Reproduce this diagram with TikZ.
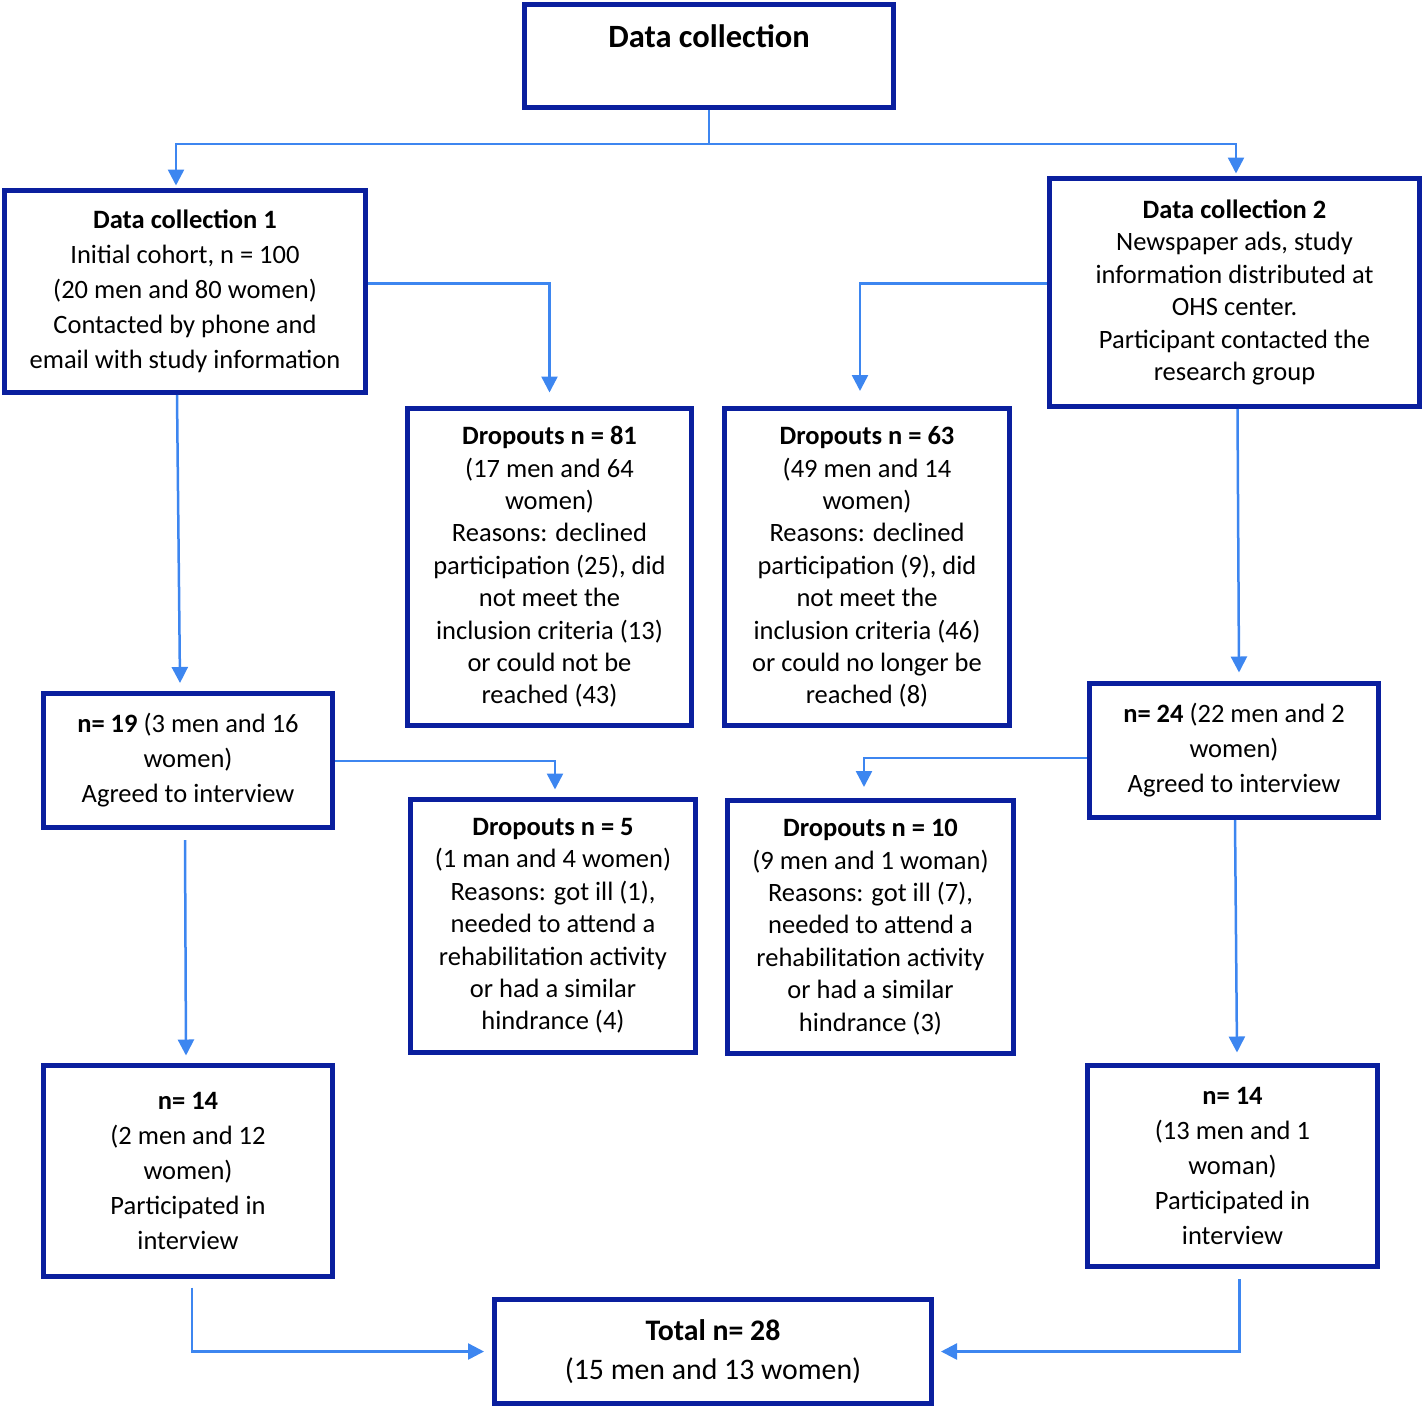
\documentclass[tikz,border=0pt]{standalone}
\usepackage{fontspec}
\setmainfont{Carlito}
\usetikzlibrary{arrows.meta}
\definecolor{boxblue}{HTML}{0A1F9E}
\definecolor{linkblue}{HTML}{3D86F0}
\tikzset{
  box/.style={draw=boxblue, line width=5pt, fill=white, align=center, inner sep=2pt,
    font=\fontsize{26.5}{35}\selectfont},
  dbox/.style={box, font=\fontsize{26.5}{32.4}\selectfont},
  conn/.style={draw=linkblue, line width=2.5pt, -{Triangle[length=16pt,width=16pt]}},
  plain/.style={draw=linkblue, line width=2.5pt}
}
\begin{document}
\begin{tikzpicture}[x=1pt,y=-1pt]
\useasboundingbox (0,0) rectangle (1424,1408);

\node[box, minimum width=369pt, minimum height=103pt, font=\fontsize{32.5}{30}\selectfont] (top) at (709,56)
  {\textbf{Data collection}\\ \strut};

\node[box, minimum width=361pt, minimum height=202pt] (dc1) at (185,291.5)
  {\textbf{Data collection 1}\\Initial cohort, n = 100\\(20 men and 80 women)\\Contacted by phone and\\email with study information};

\node[dbox, minimum width=370pt, minimum height=228pt] (dc2) at (1234.5,292.5)
  {\textbf{Data collection 2}\\Newspaper ads, study\\information distributed at\\OHS center.\\Participant contacted the\\research group};

\node[dbox, minimum width=284pt, minimum height=317pt] (d81) at (549.5,567)
  {\textbf{Dropouts n = 81}\\(17 men and 64\\women)\\Reasons: declined\\participation (25), did\\not meet the\\inclusion criteria (13)\\or could not be\\reached (43)};

\node[dbox, minimum width=285pt, minimum height=317pt] (d63) at (867,567)
  {\textbf{Dropouts n = 63}\\(49 men and 14\\women)\\Reasons: declined\\participation (9), did\\not meet the\\inclusion criteria (46)\\or could no longer be\\reached (8)};

\node[box, minimum width=289pt, minimum height=134pt] (n19) at (188,760.5)
  {\textbf{n= 19} (3 men and 16\\women)\\Agreed to interview};

\node[box, minimum width=289pt, minimum height=134pt] (n24) at (1234,750.5)
  {\textbf{n= 24} (22 men and 2\\women)\\Agreed to interview};

\node[dbox, minimum width=285pt, minimum height=253pt] (d5) at (553,926)
  {\textbf{Dropouts n = 5}\\(1 man and 4 women)\\Reasons: got ill (1),\\needed to attend a\\rehabilitation activity\\or had a similar\\hindrance (4)};

\node[dbox, minimum width=286pt, minimum height=253pt] (d10) at (870.5,927)
  {\textbf{Dropouts n = 10}\\(9 men and 1 woman)\\Reasons: got ill (7),\\needed to attend a\\rehabilitation activity\\or had a similar\\hindrance (3)};

\node[box, minimum width=289pt, minimum height=211pt] (n14l) at (188,1171)
  {\textbf{n= 14}\\(2 men and 12\\women)\\Participated in\\interview};

\node[box, minimum width=290pt, minimum height=201pt] (n14r) at (1232.5,1166)
  {\textbf{n= 14}\\(13 men and 1\\woman)\\Participated in\\interview};

\node[box, minimum width=437pt, minimum height=104pt, font=\fontsize{29.8}{39}\selectfont] (total) at (713,1351.5)
  {\textbf{Total n= 28}\\(15 men and 13 women)};

% connectors
\draw[plain] (top.south) -- (709,144) coordinate (split);
\draw[conn] (split) -| ([xshift=-9pt,yshift=2.5pt]dc1.north);
\draw[conn] (split) -| ([xshift=1.5pt,yshift=2.5pt]dc2.north);

\draw[conn] ([yshift=8pt]dc1.east) -| ([yshift=13.5pt]d81.north);
\draw[conn] ([yshift=9pt]dc2.west) -| ([xshift=-7pt,yshift=15pt]d63.north);

\draw[conn] ([xshift=-8pt]dc1.south) -- ([xshift=-8pt,yshift=8pt]n19.north);
\draw[conn] ([xshift=3pt]dc2.south) -- ([xshift=5pt,yshift=8.5pt]n24.north);

\draw[conn] ([yshift=-0.5pt]n19.east) -| ([xshift=2pt,yshift=7.5pt]d5.north);
\draw[conn] ([yshift=-7.5pt]n24.west) -| ([xshift=-6.5pt,yshift=11pt]d10.north);

\draw[conn] ([xshift=-3pt,yshift=-10pt]n19.south) -- ([xshift=-2pt,yshift=7.5pt]n14l.north);
\draw[conn] ([xshift=1pt]n24.south) -- ([xshift=4.5pt,yshift=10.5pt]n14r.north);

\draw[conn] ([xshift=4pt,yshift=-8.5pt]n14l.south) |- ([xshift=-8pt]total.west);
\draw[conn] ([xshift=7pt,yshift=-10pt]n14r.south) |- ([xshift=7pt]total.east);
\end{tikzpicture}
\end{document}
